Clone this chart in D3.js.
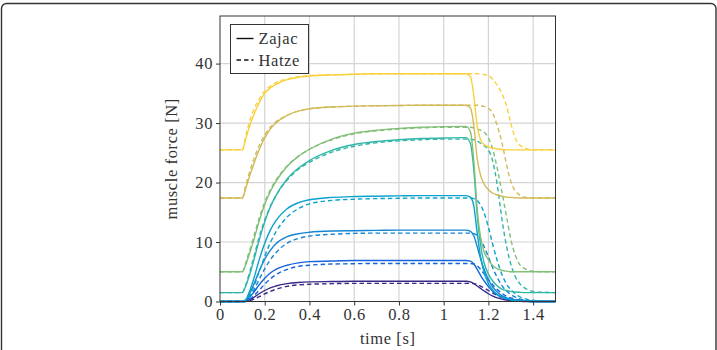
<!DOCTYPE html>
<html>
<head>
<meta charset="utf-8">
<script src="https://cdn.jsdelivr.net/npm/d3@7"></script>
<style>
  body { margin: 0; background: #fff; }
  svg text { font-family: "Liberation Serif", "DejaVu Serif", serif; fill: #333; letter-spacing: 0.6px; }
</style>
</head>
<body>
<div id="chart"></div>
<script>
// shared time samples [s]
var times = [0, 0.1, 0.115, 0.13, 0.15, 0.175, 0.2, 0.225, 0.25, 0.3, 0.35, 0.4, 0.5, 0.6, 0.7, 0.8, 0.9, 1.0, 1.1,
             1.12, 1.135, 1.15, 1.165, 1.18, 1.2, 1.22, 1.24, 1.26, 1.28, 1.3, 1.32, 1.34, 1.37, 1.4, 1.45, 1.5];

// muscle force [N], Zajac model (solid)
var zajacNavy  = [0, 0, 0.05, 0.25, 0.65, 1.3, 1.85, 2.3, 2.6, 3.0, 3.2, 3.3, 3.35, 3.4, 3.4, 3.4, 3.4, 3.4, 3.4,
                  3.3, 3.0, 2.6, 2.2, 1.8, 1.3, 0.9, 0.6, 0.4, 0.25, 0.15, 0.1, 0.05, 0, 0, 0, 0];
var zajacBlue  = [0, 0, 0.15, 0.6, 1.5, 2.8, 3.9, 4.8, 5.4, 6.1, 6.5, 6.7, 6.8, 6.9, 6.9, 6.9, 6.9, 6.9, 6.9,
                  6.8, 6.3, 5.4, 4.4, 3.5, 2.5, 1.7, 1.1, 0.7, 0.45, 0.3, 0.2, 0.1, 0.05, 0, 0, 0];
var zajacSky   = [0, 0, 0.25, 1.1, 2.8, 5.1, 7.1, 8.6, 9.7, 10.9, 11.4, 11.65, 11.85, 11.9, 11.95, 12, 12, 12, 12,
                  11.8, 11.0, 9.2, 7.2, 5.5, 3.7, 2.4, 1.6, 1.0, 0.65, 0.4, 0.25, 0.15, 0.05, 0, 0, 0];
var zajacCyan  = [0, 0, 0.3, 1.5, 3.7, 7.0, 9.8, 12.0, 13.6, 15.6, 16.6, 17.1, 17.5, 17.65, 17.7, 17.75, 17.8, 17.8, 17.8,
                  17.5, 16.0, 11.5, 7.5, 5.0, 3.0, 1.9, 1.2, 0.8, 0.5, 0.3, 0.2, 0.1, 0.05, 0, 0, 0];
var zajacTeal  = [1.5, 1.5, 2.6, 4.2, 6.8, 10.3, 13.4, 15.9, 17.8, 20.6, 22.4, 23.7, 25.4, 26.4, 26.9, 27.2, 27.4, 27.5, 27.55,
                  26.5, 22.0, 14.5, 9.5, 6.6, 4.6, 3.4, 2.6, 2.1, 1.85, 1.7, 1.6, 1.55, 1.5, 1.5, 1.5, 1.5];
var zajacGreen = [5, 5, 6.2, 7.8, 10.2, 13.5, 16.3, 18.5, 20.2, 22.7, 24.4, 25.6, 27.3, 28.3, 28.8, 29.1, 29.3, 29.4, 29.45,
                  28.5, 23.5, 15.5, 10.8, 8.5, 7.0, 6.0, 5.5, 5.25, 5.1, 5.0, 5.0, 5.0, 5.0, 5.0, 5.0, 5.0];
var zajacGold  = [17.4, 17.4, 19.0, 20.8, 23.0, 25.5, 27.5, 29.0, 30.0, 31.3, 32.0, 32.4, 32.7, 32.85, 32.9, 32.95, 33, 33, 33,
                  32.5, 29.5, 24.0, 21.2, 19.8, 18.8, 18.2, 17.9, 17.7, 17.55, 17.5, 17.45, 17.4, 17.4, 17.4, 17.4, 17.4];
var zajacYellow = [25.5, 25.5, 27.3, 29.2, 31.3, 33.4, 35.0, 35.9, 36.5, 37.3, 37.7, 37.9, 38.1, 38.2, 38.3, 38.3, 38.3, 38.3, 38.3,
                  37.8, 34.5, 29.5, 27.2, 26.4, 26.0, 25.8, 25.65, 25.55, 25.5, 25.5, 25.5, 25.5, 25.5, 25.5, 25.5, 25.5];

// muscle force [N], Hatze model (dashed)
var hatzeNavy  = [0, 0, 0, 0.1, 0.35, 0.8, 1.3, 1.7, 2.05, 2.55, 2.8, 2.9, 3.0, 3.05, 3.05, 3.05, 3.05, 3.05, 3.05,
                  3.05, 3.0, 2.85, 2.6, 2.3, 1.85, 1.4, 1.0, 0.7, 0.45, 0.3, 0.2, 0.1, 0.05, 0, 0, 0];
var hatzeBlue  = [0, 0, 0.05, 0.3, 0.9, 1.9, 2.9, 3.8, 4.5, 5.4, 5.9, 6.1, 6.3, 6.35, 6.4, 6.4, 6.4, 6.4, 6.4,
                  6.4, 6.3, 6.0, 5.4, 4.7, 3.7, 2.8, 2.0, 1.4, 0.9, 0.6, 0.4, 0.25, 0.1, 0.05, 0, 0];
var hatzeSky   = [0, 0, 0.1, 0.6, 1.8, 3.7, 5.5, 7.0, 8.2, 9.8, 10.6, 11.0, 11.3, 11.45, 11.5, 11.5, 11.5, 11.5, 11.5,
                  11.5, 11.4, 11.1, 10.4, 9.3, 7.5, 5.6, 4.0, 2.7, 1.8, 1.2, 0.75, 0.45, 0.2, 0.1, 0, 0];
var hatzeCyan  = [0, 0, 0.1, 0.8, 2.4, 5.0, 7.6, 9.9, 11.7, 14.2, 15.6, 16.4, 17.0, 17.2, 17.3, 17.35, 17.4, 17.4, 17.4,
                  17.4, 17.3, 17.0, 16.2, 15.0, 12.5, 9.5, 6.8, 4.6, 3.0, 2.0, 1.3, 0.8, 0.4, 0.2, 0.05, 0];
var hatzeTeal  = [1.5, 1.5, 2.8, 4.6, 7.3, 10.8, 13.7, 16.0, 17.8, 20.4, 22.2, 23.4, 25.1, 26.1, 26.7, 27.0, 27.2, 27.3, 27.3,
                  27.3, 27.2, 27.0, 26.6, 26.2, 25.5, 23.5, 19.5, 14.0, 9.5, 6.3, 4.2, 3.0, 2.1, 1.7, 1.55, 1.5];
var hatzeGreen = [5, 5, 6.5, 8.3, 10.8, 14.0, 16.7, 18.8, 20.4, 22.8, 24.4, 25.6, 27.2, 28.2, 28.7, 29.0, 29.2, 29.3, 29.3,
                  29.3, 29.2, 29.0, 28.8, 28.5, 27.5, 25.5, 22.3, 18.5, 14.5, 10.5, 7.8, 6.2, 5.4, 5.1, 5.0, 5.0];
var hatzeGold  = [17.4, 17.4, 19.5, 21.5, 23.8, 26.2, 28.0, 29.3, 30.2, 31.3, 32.0, 32.4, 32.7, 32.85, 32.9, 32.95, 33, 33, 33,
                  33, 33, 33, 32.9, 32.8, 32.5, 31.6, 29.5, 26.8, 23.2, 20.2, 18.6, 17.9, 17.5, 17.45, 17.4, 17.4];
var hatzeYellow = [25.5, 25.5, 27.8, 30.0, 32.2, 34.0, 35.4, 36.2, 36.8, 37.4, 37.8, 38.0, 38.1, 38.2, 38.3, 38.3, 38.3, 38.3, 38.3,
                  38.3, 38.3, 38.3, 38.25, 38.15, 38.0, 37.3, 36.3, 35.0, 33.0, 30.0, 27.5, 26.3, 25.7, 25.5, 25.5, 25.5];

var lineColors = ["#352a87", "#1464dc", "#1485d4", "#0ba2cd", "#2fb6a8", "#82bf78", "#d2ba58", "#f9d13c"];
var zajacSeries = [zajacNavy, zajacBlue, zajacSky, zajacCyan, zajacTeal, zajacGreen, zajacGold, zajacYellow];
var hatzeSeries = [hatzeNavy, hatzeBlue, hatzeSky, hatzeCyan, hatzeTeal, hatzeGreen, hatzeGold, hatzeYellow];

var xTicks = [0, 0.2, 0.4, 0.6, 0.8, 1, 1.2, 1.4];
var yTicks = [0, 10, 20, 30, 40];
var legendLabels = ["Zajac", "Hatze"];

var serif = "'Liberation Serif', 'DejaVu Serif', serif";

var W = 717, H = 350;
var margin = { top: 16, right: 161.5, bottom: 48.5, left: 220 },
    width = W - margin.left - margin.right,
    height = H - margin.top - margin.bottom;

var svg = d3.select("#chart")
    .append("svg")
    .attr("width", W)
    .attr("height", H);

// page frame
svg.append("rect")
    .attr("x", 1.5).attr("y", 3.5)
    .attr("width", W - 2.5).attr("height", H + 20)
    .attr("rx", 5)
    .attr("fill", "none")
    .attr("stroke", "#333")
    .attr("stroke-width", 1.4);

var g = svg.append("g")
    .attr("transform", "translate(" + margin.left + "," + margin.top + ")");

var xScale = d3.scaleLinear().domain([0, 1.5]).range([0, width]);
var yScale = d3.scaleLinear().domain([0, 48]).range([height, 0]);

// grid
g.selectAll(".vgrid")
    .data(xTicks.filter(function(d) { return d > 0; }))
    .enter().append("line")
    .attr("x1", function(d) { return xScale(d); })
    .attr("x2", function(d) { return xScale(d); })
    .attr("y1", 0).attr("y2", height)
    .attr("stroke", "#d4d4d4").attr("stroke-width", 1.2);

g.selectAll(".hgrid")
    .data(yTicks.filter(function(d) { return d > 0; }))
    .enter().append("line")
    .attr("x1", 0).attr("x2", width)
    .attr("y1", function(d) { return yScale(d); })
    .attr("y2", function(d) { return yScale(d); })
    .attr("stroke", "#d4d4d4").attr("stroke-width", 1.2);

// curves
var line = d3.line()
    .x(function(d) { return xScale(d[0]); })
    .y(function(d) { return yScale(d[1]); })
    .curve(d3.curveMonotoneX);

function pairs(values) {
    return times.map(function(t, i) { return [t, values[i]]; });
}

var curves = g.append("g");
for (var i = 0; i < lineColors.length; i++) {
    curves.append("path")
        .attr("d", line(pairs(hatzeSeries[i])))
        .attr("fill", "none")
        .attr("stroke", lineColors[i])
        .attr("stroke-width", 1.4)
        .attr("stroke-dasharray", "4.5,3");
    curves.append("path")
        .attr("d", line(pairs(zajacSeries[i])))
        .attr("fill", "none")
        .attr("stroke", lineColors[i])
        .attr("stroke-width", 1.4);
}

// axes
var xAxis = g.append("g")
    .attr("transform", "translate(0," + height + ")")
    .call(d3.axisBottom(xScale).tickValues(xTicks).tickSize(4).tickPadding(3)
        .tickFormat(function(d) { return d3.format("")(d); }));
var yAxis = g.append("g")
    .call(d3.axisLeft(yScale).tickValues(yTicks).tickSize(4).tickPadding(3));

[xAxis, yAxis].forEach(function(ax) {
    ax.attr("font-family", serif).attr("font-size", 16.5);
    ax.select(".domain").remove();
    ax.selectAll("line").attr("stroke", "#333");
    ax.selectAll("text")
        .style("font-family", serif)
        .style("font-size", "16.5px")
        .attr("fill", "#333");
});

g.append("rect")
    .attr("width", width).attr("height", height)
    .attr("fill", "none")
    .attr("stroke", "#333")
    .attr("stroke-width", 1);

// axis labels
g.append("text")
    .attr("x", width / 2)
    .attr("y", height + 42)
    .attr("text-anchor", "middle")
    .style("font-size", "16.5px")
    .text("time [s]");

g.append("text")
    .attr("transform", "translate(-43," + (height / 2) + ") rotate(-90)")
    .attr("text-anchor", "middle")
    .style("font-size", "16.5px")
    .text("muscle force [N]");

// legend
var legend = g.append("g").attr("transform", "translate(10.5,8.5)");
legend.append("rect")
    .attr("width", 78).attr("height", 49)
    .attr("fill", "#fff")
    .attr("stroke", "#333");

legendLabels.forEach(function(name, k) {
    var ly = 14 + k * 21.5;
    legend.append("line")
        .attr("x1", 6).attr("x2", 23)
        .attr("y1", ly).attr("y2", ly)
        .attr("stroke", "#111")
        .attr("stroke-width", 1.4)
        .attr("stroke-dasharray", k === 1 ? "4.5,3" : null);
    legend.append("text")
        .attr("x", 28).attr("y", ly + 5.5)
        .style("font-size", "16.5px")
        .text(name);
});
</script>
</body>
</html>
